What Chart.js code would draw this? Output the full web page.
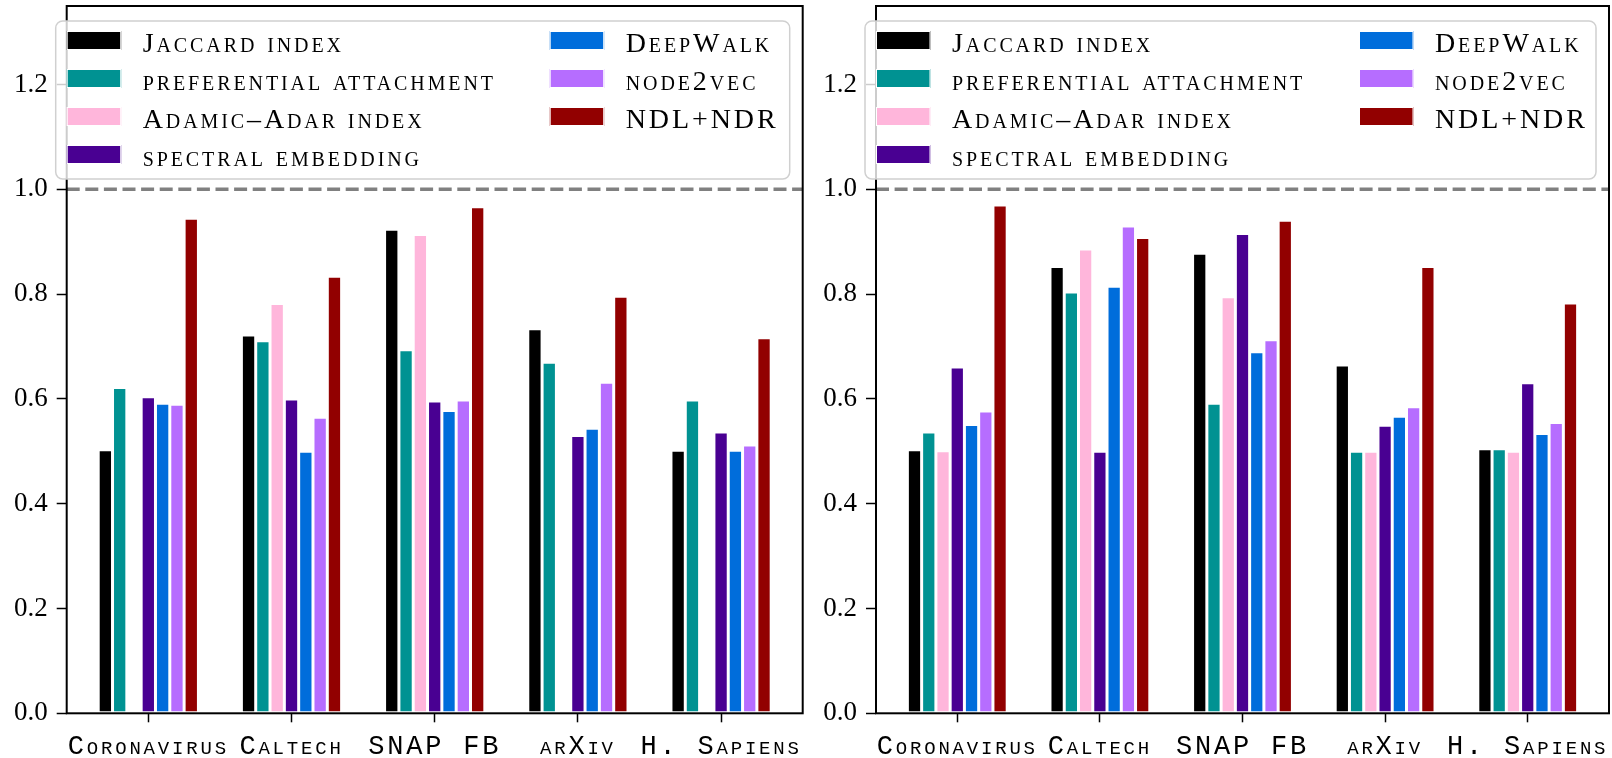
<!DOCTYPE html>
<html>
<head>
<meta charset="utf-8">
<title>Link prediction scores</title>
<script src="https://cdn.jsdelivr.net/npm/chart.js@4/dist/chart.umd.min.js"></script>
<style>
  html, body { margin: 0; padding: 0; background: #ffffff; }
  #wrap { position: relative; width: 1612px; height: 758px; overflow: hidden; }
  canvas { position: absolute; top: 0; }
  #left { left: 0; }
  #right { left: 812px; }
</style>
</head>
<body>
<div id="wrap">
  <canvas id="left" width="812" height="758"></canvas>
  <canvas id="right" width="800" height="758"></canvas>
</div>
<script>
// Networks on the x axis
const categories = ['Coronavirus', 'Caltech', 'SNAP FB', 'arXiv', 'H. Sapiens'];

// Methods and their colours (colour-blind safe palette)
const methods = ['Jaccard index', 'preferential attachment', 'Adamic–Adar index',
                 'spectral embedding', 'DeepWalk', 'node2vec', 'NDL+NDR'];
const colors = ['#000000', '#009292', '#ffb6db', '#490092', '#006ddb', '#b66dff', '#920000'];

// Y ticks and the reference level
const yTicks = [0.0, 0.2, 0.4, 0.6, 0.8, 1.0, 1.2];
const refLevel = 1.0;

// Left panel scores
const jaccardA   = [0.503, 0.722, 0.924, 0.734, 0.502];
const prefA      = [0.622, 0.711, 0.694, 0.670, 0.598];
const adamicA    = [null,  0.782, 0.914, null,  null ];
const spectralA  = [0.604, 0.600, 0.596, 0.530, 0.537];
const deepwalkA  = [0.592, 0.500, 0.578, 0.544, 0.502];
const node2vecA  = [0.590, 0.565, 0.598, 0.632, 0.512];
const ndlA       = [0.945, 0.834, 0.967, 0.796, 0.717];

// Right panel scores
const jaccardB   = [0.503, 0.853, 0.878, 0.665, 0.505];
const prefB      = [0.537, 0.804, 0.592, 0.500, 0.505];
const adamicB    = [0.501, 0.886, 0.795, 0.500, 0.500];
const spectralB  = [0.661, 0.500, 0.916, 0.550, 0.631];
const deepwalkB  = [0.551, 0.815, 0.690, 0.567, 0.534];
const node2vecB  = [0.577, 0.930, 0.713, 0.585, 0.555];
const ndlB       = [0.970, 0.908, 0.941, 0.853, 0.783];

const seriesA = [jaccardA, prefA, adamicA, spectralA, deepwalkA, node2vecA, ndlA];
const seriesB = [jaccardB, prefB, adamicB, spectralB, deepwalkB, node2vecB, ndlB];

const SERIF = '"Liberation Serif", "DejaVu Serif", serif';
const MONO = '"Liberation Mono", "DejaVu Sans Mono", monospace';

// Dashed reference line, box frame and a two-column legend inside the plot
const framePlugin = {
  id: 'frame',
  afterDatasetsDraw(chart) {
    const { ctx, chartArea: a, scales } = chart;
    const yy = scales.y.getPixelForValue(refLevel);
    ctx.save();
    ctx.strokeStyle = '#808080';
    ctx.lineWidth = 3.5;
    ctx.setLineDash([13, 5.6]);
    ctx.beginPath();
    ctx.moveTo(a.left, yy);
    ctx.lineTo(a.right, yy);
    ctx.stroke();
    ctx.setLineDash([]);
    ctx.strokeStyle = '#000000';
    ctx.lineWidth = 2;
    ctx.strokeRect(a.left, a.top, a.right - a.left, a.bottom - a.top);
    ctx.restore();
  },
  afterDraw(chart) {
    const { ctx, chartArea: a } = chart;
    const sets = chart.data.datasets;
    ctx.save();
    // legend frame
    const bx = a.left - 11, by = a.top + 15, bw = a.right - a.left - 2, bh = 158;
    ctx.beginPath();
    ctx.roundRect(bx, by, bw, bh, 7);
    ctx.fillStyle = 'rgba(255,255,255,0.8)';
    ctx.fill();
    ctx.strokeStyle = '#d0d0d0';
    ctx.lineWidth = 1.5;
    ctx.stroke();
    // entries, filled column by column
    ctx.font = 'small-caps 400 28px ' + SERIF;
    ctx.letterSpacing = '2.9px';
    ctx.textBaseline = 'alphabetic';
    ctx.textAlign = 'left';
    const perCol = 4;
    sets.forEach((ds, i) => {
      const col = Math.floor(i / perCol), row = i % perCol;
      const hx = a.left + (col === 0 ? 0 : 483);
      const hy = a.top + 25 + row * 38;
      ctx.fillStyle = ds.backgroundColor;
      ctx.fillRect(hx, hy, 54.5, 19);
      ctx.strokeStyle = '#ffffff';
      ctx.lineWidth = 1;
      ctx.strokeRect(hx + 0.5, hy + 0.5, 53.5, 18);
      ctx.fillStyle = '#000000';
      ctx.fillText(ds.label, hx + 76, hy + 20.5);
    });
    ctx.restore();
  }
};

function buildChart(canvasId, series, yWidth, padRight) {
  const datasets = methods.map((name, k) => ({
    label: name,
    data: series[k].map((v, i) => ({ x: i, y: v })),
    backgroundColor: colors[k],
    borderColor: '#ffffff',
    borderWidth: 1.5,
    borderSkipped: false,
    categoryPercentage: 0.7,
    barPercentage: 1.0
  }));

  return new Chart(document.getElementById(canvasId), {
    type: 'bar',
    data: { datasets },
    plugins: [framePlugin],
    options: {
      responsive: false,
      animation: false,
      devicePixelRatio: 1,
      layout: { padding: { top: 6, right: padRight, bottom: 0, left: 0 } },
      plugins: { legend: { display: false }, tooltip: { enabled: false } },
      scales: {
        x: {
          type: 'linear',
          offset: false,
          min: -0.57,
          max: 4.57,
          afterBuildTicks(scale) {
            scale.ticks = categories.map((c, i) => ({ value: i }));
          },
          afterFit(scale) {
            scale.height = 44.7;
            scale.paddingLeft = 0;
            scale.paddingRight = 0;
            if (!scale._spacedLabels) {
              const base = scale.drawLabels;
              scale.drawLabels = function (area) {
                const c = this.ctx;
                c.save();
                c.letterSpacing = '2.8px';
                base.call(this, area);
                c.restore();
              };
              scale._spacedLabels = true;
            }
          },
          grid: {
            offset: false,
            drawOnChartArea: false,
            drawTicks: true,
            tickLength: 9,
            tickWidth: 1.5,
            color: '#000000',
            tickColor: '#000000'
          },
          border: { display: false },
          ticks: {
            autoSkip: false,
            maxRotation: 0,
            padding: 8,
            color: '#000000',
            font: { family: MONO, size: 27, weight: 'small-caps 400' },
            callback: (v) => categories[v]
          }
        },
        y: {
          min: 0,
          max: 1.35,
          afterBuildTicks(scale) {
            scale.ticks = yTicks.map(v => ({ value: v }));
          },
          afterFit(scale) {
            scale.width = yWidth;
            scale.paddingTop = 0;
            scale.paddingBottom = 0;
          },
          grid: {
            drawOnChartArea: false,
            drawTicks: true,
            tickLength: 10,
            tickWidth: 1.5,
            color: '#000000',
            tickColor: '#000000'
          },
          border: { display: false },
          ticks: {
            padding: 9,
            color: '#000000',
            font: { family: SERIF, size: 27 },
            callback: (v) => Number(v).toFixed(1)
          }
        }
      }
    }
  });
}

buildChart('left', seriesA, 66.7, 9.3);
buildChart('right', seriesB, 64, 3);
</script>
</body>
</html>
